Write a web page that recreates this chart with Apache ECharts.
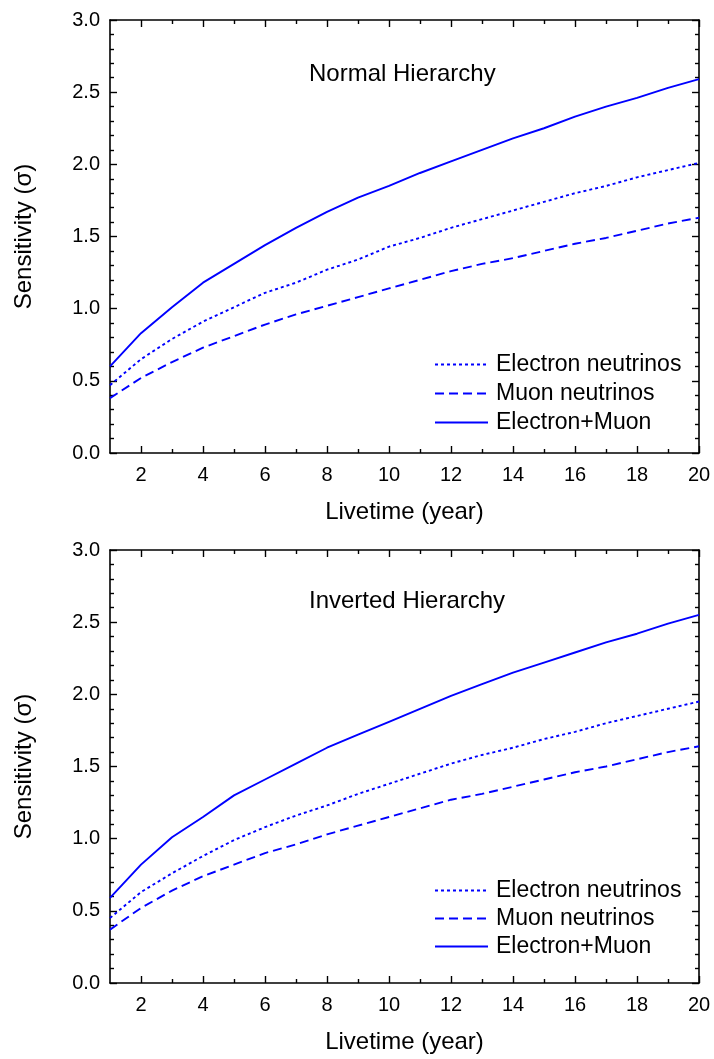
<!DOCTYPE html>
<html>
<head>
<meta charset="utf-8">
<script src="https://cdn.jsdelivr.net/npm/echarts@6/dist/echarts.min.js"></script>
<style>html,body{margin:0;padding:0;background:#fff;}#c{width:714px;height:1059px;}</style>
</head>
<body>
<div id="c"></div>
<script>
const years = [1,2,3,4,5,6,7,8,9,10,11,12,13,14,15,16,17,18,19,20];
const majorTicks = [2,4,6,8,10,12,14,16,18,20];
const minorTicks = [3,5,7,9,11,13,15,17,19];
const seriesNames = ['Electron neutrinos','Muon neutrinos','Electron+Muon'];
const panelTitles = ['Normal Hierarchy','Inverted Hierarchy'];
const xTitle = 'Livetime (year)';
const yTitle = 'Sensitivity (σ)';

const nhElectron = [0.47,0.65,0.79,0.91,1.01,1.11,1.18,1.27,1.34,1.43,1.49,1.56,1.62,1.68,1.74,1.80,1.85,1.91,1.96,2.01];
const nhMuon     = [0.38,0.52,0.63,0.73,0.81,0.89,0.96,1.02,1.08,1.14,1.20,1.26,1.31,1.35,1.40,1.45,1.49,1.54,1.59,1.63];
const nhBoth     = [0.60,0.83,1.01,1.18,1.31,1.44,1.56,1.67,1.77,1.85,1.94,2.02,2.10,2.18,2.25,2.33,2.40,2.46,2.53,2.59];
const ihElectron = [0.45,0.63,0.76,0.88,0.99,1.08,1.16,1.23,1.31,1.38,1.45,1.52,1.58,1.63,1.69,1.74,1.80,1.85,1.90,1.95];
const ihMuon     = [0.37,0.52,0.64,0.74,0.82,0.90,0.96,1.03,1.09,1.15,1.21,1.27,1.31,1.36,1.41,1.46,1.50,1.55,1.60,1.64];
const ihBoth     = [0.59,0.82,1.01,1.15,1.30,1.41,1.52,1.63,1.72,1.81,1.90,1.99,2.07,2.15,2.22,2.29,2.36,2.42,2.49,2.55];

const FONT = "'Liberation Sans', Arial, sans-serif";
const BLUE = '#0000ff';
const lineTypes = [[3,3],[9,5],'solid'];

const chart = echarts.init(document.getElementById('c'), null, {renderer:'canvas'});

const grids = [
  {left:110, right:15, top:20, height:433},
  {left:110, right:15, top:550, height:433}
];

function xAxes(g){
  const base = {type:'value', gridIndex:g, min:1, max:20, splitLine:{show:false}};
  return [
    Object.assign({}, base, {position:'bottom',
      name:xTitle, nameLocation:'middle', nameGap:47,
      nameTextStyle:{fontFamily:FONT, fontSize:24, color:'#000'},
      axisLine:{show:true, onZero:false, lineStyle:{color:'#000', width:1.6}},
      axisTick:{show:true, inside:true, length:7, customValues:majorTicks, lineStyle:{color:'#000', width:1.4}},
      axisLabel:{show:true, customValues:majorTicks, margin:12, fontFamily:FONT, fontSize:20, color:'#000'}}),
    Object.assign({}, base, {position:'bottom', offset:0,
      axisLine:{show:false, onZero:false},
      axisTick:{show:true, inside:true, length:4, customValues:minorTicks, lineStyle:{color:'#000', width:1.4}},
      axisLabel:{show:false}}),
    Object.assign({}, base, {position:'top',
      axisLine:{show:true, onZero:false, lineStyle:{color:'#000', width:1.6}},
      axisTick:{show:true, inside:true, length:7, customValues:majorTicks, lineStyle:{color:'#000', width:1.4}},
      axisLabel:{show:false}}),
    Object.assign({}, base, {position:'top', offset:0,
      axisLine:{show:false, onZero:false},
      axisTick:{show:true, inside:true, length:4, customValues:minorTicks, lineStyle:{color:'#000', width:1.4}},
      axisLabel:{show:false}})
  ];
}
function yAxes(g){
  const base = {type:'value', gridIndex:g, min:0, max:3, interval:0.5, splitLine:{show:false},
    minorTick:{show:true, splitNumber:5, length:4, lineStyle:{color:'#000', width:1.4}},
    minorSplitLine:{show:false},
    axisLine:{show:true, onZero:false, lineStyle:{color:'#000', width:1.6}},
    axisTick:{show:true, inside:true, length:7, lineStyle:{color:'#000', width:1.4}}};
  return [
    Object.assign({}, base, {position:'left',
      name:yTitle, nameLocation:'middle', nameGap:74,
      nameTextStyle:{fontFamily:FONT, fontSize:24, color:'#000'},
      axisLabel:{show:true, margin:10, fontFamily:FONT, fontSize:20, color:'#000', formatter:v=>v.toFixed(1)}}),
    Object.assign({}, base, {position:'right', axisLabel:{show:false}})
  ];
}

function mkSeries(name, idx, vals, xi, yi){
  return {
    type:'line', name:name, xAxisIndex:xi, yAxisIndex:yi,
    data: years.map((y,i)=>[y, vals[i]]),
    symbol:'none', smooth:false, silent:true,
    lineStyle:{color:BLUE, width:1.9, type:lineTypes[idx]},
    itemStyle:{color:BLUE}
  };
}

const legendBase = {orient:'vertical', left:429, itemWidth:53, itemHeight:14, itemGap:6,
  itemStyle:{opacity:0},
  textStyle:{fontFamily:FONT, fontSize:23, color:'#000', lineHeight:22, padding:[0,0,0,3]},
  selectedMode:false};

const option = {
  backgroundColor:'#fff',
  animation:false,
  grid:grids,
  title:[
    {text:panelTitles[0], left:304, top:57, textStyle:{fontFamily:FONT, fontSize:24, fontWeight:'normal', color:'#000'}},
    {text:panelTitles[1], left:304, top:584, textStyle:{fontFamily:FONT, fontSize:24, fontWeight:'normal', color:'#000'}}
  ],
  legend:[
    Object.assign({}, legendBase, {top:348, data:seriesNames.slice()}),
    Object.assign({}, legendBase, {top:874, itemGap:5, data:seriesNames.map(n=>n+' ')})
  ],
  xAxis: xAxes(0).concat(xAxes(1)),
  yAxis: yAxes(0).concat(yAxes(1)),
  series:[
    mkSeries(seriesNames[0],0,nhElectron,0,0),
    mkSeries(seriesNames[1],1,nhMuon,0,0),
    mkSeries(seriesNames[2],2,nhBoth,0,0),
    mkSeries(seriesNames[0]+' ',0,ihElectron,4,2),
    mkSeries(seriesNames[1]+' ',1,ihMuon,4,2),
    mkSeries(seriesNames[2]+' ',2,ihBoth,4,2)
  ]
};
chart.setOption(option);
</script>
</body>
</html>
